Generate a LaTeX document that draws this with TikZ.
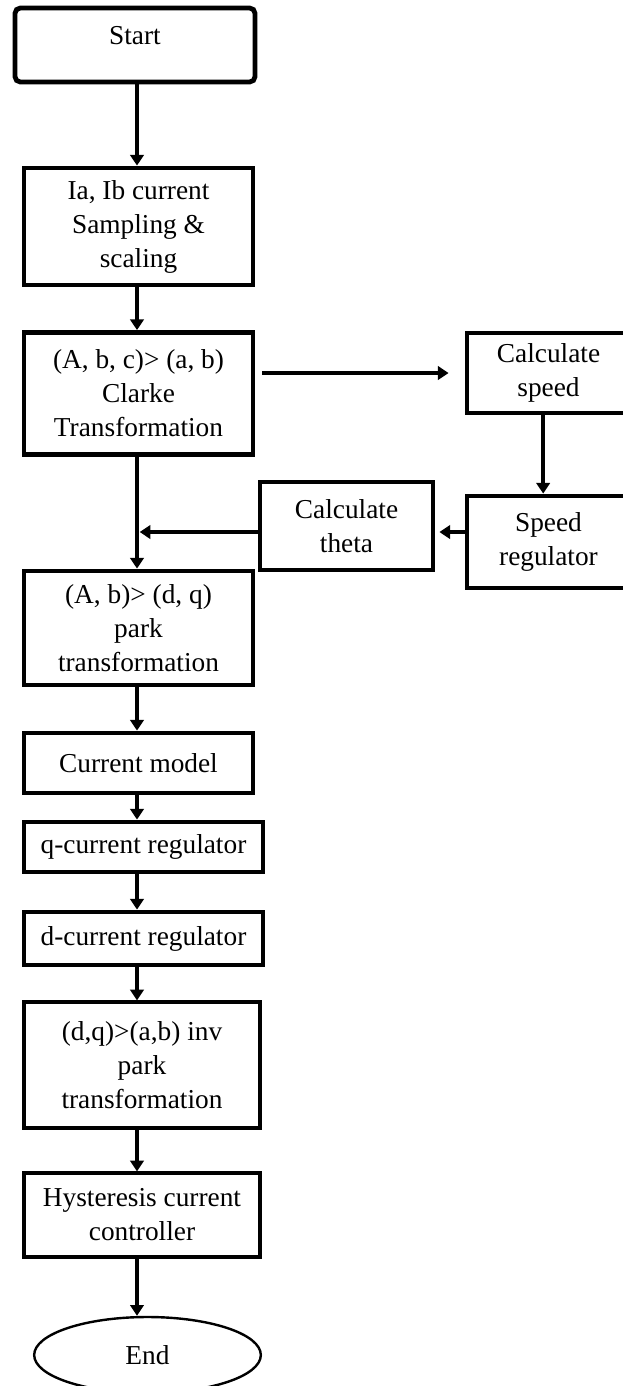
\documentclass[tikz,border=0pt]{standalone}
\usepackage{fontspec}
\setmainfont{Liberation Serif}
\usetikzlibrary{arrows.meta,shapes.geometric}

\tikzset{
  blk/.style={draw, line width=3.6pt, align=center, inner sep=0pt, font=\fontsize{20.5}{25.5}\selectfont},
  thinblk/.style={blk, line width=2.4pt},
  arr/.style={line width=2.8pt, -{Triangle[length=8pt,width=10pt]}}
}

\begin{document}
\begin{tikzpicture}[x=0.75pt,y=0.75pt,yscale=-1,xscale=1]
\useasboundingbox (0,0) rectangle (622,1386);

%Shape: Rounded Rect [start]
\node[blk, rounded corners=4pt, minimum width=180pt, minimum height=55.5pt, text depth=15pt] (start) at (135,45) {Start};
%Shape: Rectangle [sample]
\node[blk, minimum width=171.75pt, minimum height=87.75pt] (sample) at (138.5,226.5) {Ia, Ib current\\Sampling \&\\scaling};
%Shape: Rectangle [clarke]
\node[blk, minimum width=171.75pt, minimum height=91.5pt] (clarke) at (138.5,393.5) {(A, b, c)> (a, b)\\Clarke\\Transformation};
%Shape: Rectangle [speed]
\node[blk, minimum width=122.25pt, minimum height=60pt] (speed) at (548.5,373) {Calculate\\speed};
%Shape: Rectangle [speedreg]
\node[blk, minimum width=122.25pt, minimum height=69pt] (speedreg) at (548.5,542) {Speed\\regulator};
%Shape: Rectangle [theta]
\node[blk, minimum width=129.75pt, minimum height=66pt] (theta) at (346.5,526) {Calculate\\theta};
%Shape: Rectangle [park]
\node[blk, minimum width=171.75pt, minimum height=85.5pt] (park) at (138.5,628) {(A, b)> (d, q)\\park\\transformation};
%Shape: Rectangle [model]
\node[blk, minimum width=171.75pt, minimum height=45pt] (model) at (138.5,763) {Current model};
%Shape: Rectangle [qreg]
\node[blk, minimum width=179.25pt, minimum height=37.5pt] (qreg) at (143.5,847) {q-current regulator};
%Shape: Rectangle [dreg]
\node[blk, minimum width=179.25pt, minimum height=39.75pt] (dreg) at (143.5,938.5) {d-current regulator};
%Shape: Rectangle [invpark]
\node[thinblk, minimum width=177pt, minimum height=94.5pt] (invpark) at (142,1065) {(d,q)>(a,b) inv\\park\\transformation};
%Shape: Rectangle [hyst]
\node[thinblk, minimum width=177pt, minimum height=63pt] (hyst) at (142,1215) {Hysteresis current\\controller};
%Shape: Ellipse [end]
\node[blk, ellipse, line width=1.8pt, minimum width=170pt, minimum height=57pt] (end) at (147.5,1355) {End};

\coordinate (spine) at (137,0);
\coordinate (join) at (137,532);

%Straight Lines
\draw[arr] (start.south -| spine) -- (sample.north -| spine);
\draw[arr] (sample.south -| spine) -- (clarke.north -| spine);
\draw[arr] (clarke.south -| spine) -- (park.north -| spine);
\draw[arr] (park.south -| spine) -- (model.north -| spine);
\draw[arr] (model.south -| spine) -- (qreg.north -| spine);
\draw[arr] (qreg.south -| spine) -- (dreg.north -| spine);
\draw[arr] (dreg.south -| spine) -- (invpark.north -| spine);
\draw[arr] (invpark.south -| spine) -- (hyst.north -| spine);
\draw[arr] (hyst.south -| spine) -- (end.north -| spine);
%Straight Lines
\draw[arr, shorten <=5pt, shorten >=12pt] (clarke.east |- speed.west) -- (speed.west);
\draw[arr] ([xshift=-4pt]speed.south) -- ([xshift=-4pt]speedreg.north);
\draw[arr, shorten >=3pt] (speedreg.west |- join) -- (theta.east |- join);
\draw[arr, shorten >=2pt] (theta.west |- join) -- (join);

\end{tikzpicture}
\end{document}
